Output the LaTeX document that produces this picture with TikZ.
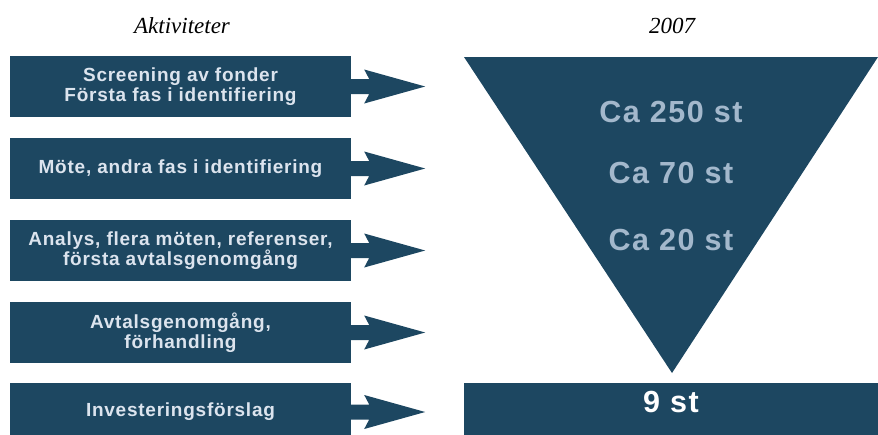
\documentclass[tikz,border=0pt]{standalone}
\usepackage{fontspec}
\setmainfont{Liberation Serif}
\newfontfamily\boxfont[LetterSpace=4]{Liberation Sans}
\newfontfamily\bigfont[LetterSpace=5]{Liberation Sans}
\definecolor{boxblue}{HTML}{1D4761}
\definecolor{boxtext}{HTML}{DCE4EE}
\definecolor{tritext}{HTML}{A3B8CC}
\begin{document}
\begin{tikzpicture}[x=1pt,y=-1pt,
  actbox/.style={fill=boxblue,minimum width=341pt,minimum height=61pt,inner sep=0pt,
    align=center,text=boxtext,font=\boxfont\bfseries\fontsize{19}{20}\selectfont},
  arrowshape/.style={fill=boxblue},
  bigtext/.style={anchor=base,text=tritext,font=\bigfont\bfseries\fontsize{30.5}{32}\selectfont},
  headtext/.style={anchor=base,font=\itshape\fontsize{23}{25}\selectfont}]
\useasboundingbox (0,0) rectangle (878,434);
% headings
\node[headtext] (h1) at (182,33) {Aktiviteter};
\node[headtext] (h2) at (672,33) {2007};
% activity boxes
\node[actbox] (b1) at (180.5,86.5) {Screening av fonder\\Första fas i identifiering};
\node[actbox] (b2) at (180.5,168.5) {Möte, andra fas i identifiering};
\node[actbox] (b3) at (180.5,250.5) {Analys, flera möten, referenser,\\första avtalsgenomgång};
\node[actbox] (b4) at (180.5,332.5) {Avtalsgenomgång,\\förhandling};
\node[actbox,minimum height=58pt] (b5) at (180.5,412) {Investeringsförslag};
% arrows
\foreach \b in {b1,b2,b3,b4,b5}{
  \fill[arrowshape] ([yshift=7.5pt]\b.east) -- ++(18,0) -- ++(-5,-9.5) -- ++(61,17)
    -- ++(-61,17) -- ++(5,-9.5) -- ++(-18,0) -- cycle;
}
% funnel
\coordinate (tl) at (464,57);
\coordinate (tr) at (878,57);
\coordinate (tip) at (672,373);
\fill[boxblue] (tl) -- (tr) -- (tip) -- cycle;
\node[bigtext] (c1) at (671,122) {Ca 250 st};
\node[bigtext] (c2) at (671,183) {Ca 70 st};
\node[bigtext] (c3) at (671,250) {Ca 20 st};
% result
\node[fill=boxblue,minimum width=414pt,minimum height=58pt,inner sep=0pt] (res) at (671,412) {};
\node[bigtext,text=white] (r) at (671,412) {9 st};
\end{tikzpicture}
\end{document}
